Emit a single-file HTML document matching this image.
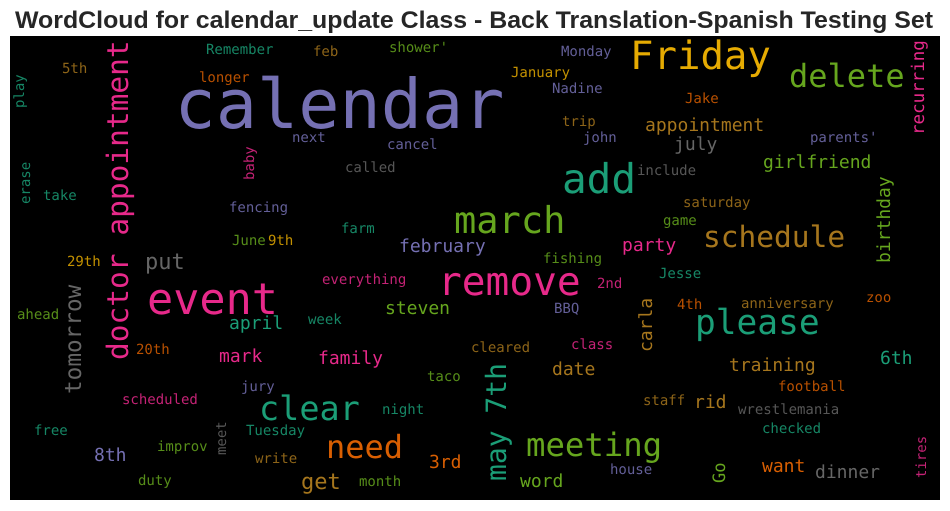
<!DOCTYPE html>
<html lang="en">
<head>
<meta charset="utf-8">
<title>WordCloud for calendar_update Class</title>
<style>
html,body{margin:0;padding:0;background:#fff;width:950px;height:511px;overflow:hidden}
svg{display:block}
#cloud{filter:blur(0.3px)}
#cloud text{font-family:"DejaVu Sans Mono","Liberation Mono",monospace;text-rendering:geometricPrecision}
.s{opacity:.85}
.t{fill:#1b9e77}.o{fill:#d95f02}.p{fill:#7570b3}.m{fill:#e7298a}.g{fill:#66a61e}.y{fill:#e6ab02}.b{fill:#a6761d}.k{fill:#666666}
</style>
</head>
<body>
<svg width="950" height="511" viewBox="0 0 950 511" xmlns="http://www.w3.org/2000/svg">
<text x="474" y="28" text-anchor="middle" textLength="918" lengthAdjust="spacingAndGlyphs" font-family="'Liberation Sans',sans-serif" font-weight="700" font-size="24.5" fill="#262626">WordCloud for calendar_update Class - Back Translation-Spanish Testing Set</text>
<rect x="10" y="36" width="930" height="464" fill="#000"/>
<g id="cloud">
<text class="p" x="174.500" y="128" font-size="68.5">calendar</text>
<text class="y" x="630" y="69" font-size="39">Friday</text>
<text class="g" x="789" y="87" font-size="32">delete</text>
<text class="t" x="562" y="193" font-size="41">add</text>
<text class="g" x="454" y="233" font-size="37">march</text>
<text class="b" x="703" y="247" font-size="29.5">schedule</text>
<text class="m" x="438" y="295" font-size="39.5">remove</text>
<text class="m" x="147" y="314" font-size="43.5">event</text>
<text class="t" x="695" y="334" font-size="34.5">please</text>
<text class="t" x="259" y="420" font-size="33.5">clear</text>
<text class="o" x="326" y="458" font-size="32">need</text>
<text class="g" x="526" y="456" font-size="32.3">meeting</text>
<text class="k" x="145" y="269" font-size="22">put</text>
<text class="b" x="301" y="489" font-size="22">get</text>
<g transform="translate(1 0)">
<text class="b" x="644" y="131" font-size="18">appointment</text>
<text class="k" x="673" y="150" font-size="18">july</text>
<text class="g" x="762" y="168" font-size="18">girlfriend</text>
<text class="m" x="621" y="251" font-size="18">party</text>
<text class="p" x="398" y="252" font-size="18">february</text>
<text class="t" x="228" y="329" font-size="18">april</text>
<text class="m" x="218" y="362" font-size="18">mark</text>
<text class="m" x="317" y="364" font-size="18">family</text>
<text class="p" x="93" y="461" font-size="18">8th</text>
<text class="g" x="384" y="314" font-size="18">steven</text>
<text class="b" x="551" y="375" font-size="18">date</text>
<text class="o" x="428" y="468" font-size="18">3rd</text>
<text class="g" x="519" y="487" font-size="18">word</text>
<text class="t" x="879" y="364" font-size="18">6th</text>
<text class="b" x="728" y="371" font-size="18">training</text>
<text class="b" x="693" y="408" font-size="18">rid</text>
<text class="o" x="761" y="472" font-size="18">want</text>
<text class="k" x="814" y="478" font-size="18">dinner</text>
<text class="o s" x="684" y="103" font-size="14">Jake</text>
<text class="p s" x="809" y="142" font-size="14">parents'</text>
<text class="k s" x="636" y="175" font-size="14">include</text>
<text class="b s" x="682" y="207" font-size="14">saturday</text>
<text class="g s" x="662" y="225" font-size="14">game</text>
<text class="t s" x="340" y="233" font-size="14">farm</text>
<text class="k s" x="344" y="172" font-size="14">called</text>
<text class="p s" x="386" y="149" font-size="14">cancel</text>
<text class="p s" x="582" y="142" font-size="14">john</text>
<text class="b s" x="561" y="126" font-size="14">trip</text>
<text class="p s" x="551" y="93" font-size="14">Nadine</text>
<text class="y s" x="510" y="77" font-size="14">January</text>
<text class="p s" x="560" y="56" font-size="14">Monday</text>
<text class="g s" x="388" y="52" font-size="14">shower'</text>
<text class="b s" x="312" y="56" font-size="14">feb</text>
<text class="t s" x="205" y="54" font-size="14">Remember</text>
<text class="b s" x="61" y="73" font-size="14">5th</text>
<text class="o s" x="198" y="82" font-size="14">longer</text>
<text class="p s" x="291" y="142" font-size="14">next</text>
<text class="t s" x="42" y="200" font-size="14">take</text>
<text class="p s" x="228" y="212" font-size="14">fencing</text>
<text class="g s" x="231" y="245" font-size="14">June</text>
<text class="y s" x="267" y="245" font-size="14">9th</text>
<text class="y s" x="66" y="266" font-size="14">29th</text>
<text class="t s" x="307" y="324" font-size="14">week</text>
<text class="g s" x="16" y="319" font-size="14">ahead</text>
<text class="o s" x="135" y="354" font-size="14">20th</text>
<text class="p s" x="240" y="391" font-size="14">jury</text>
<text class="m s" x="121" y="404" font-size="14">scheduled</text>
<text class="t s" x="33" y="435" font-size="14">free</text>
<text class="t s" x="245" y="435" font-size="14">Tuesday</text>
<text class="g s" x="156" y="451" font-size="14">improv</text>
<text class="b s" x="254" y="463" font-size="14">write</text>
<text class="g s" x="137" y="485" font-size="14">duty</text>
<text class="m s" x="321" y="284" font-size="14">everything</text>
<text class="g s" x="542" y="263" font-size="14">fishing</text>
<text class="m s" x="596" y="288" font-size="14">2nd</text>
<text class="p s" x="553" y="313" font-size="14">BBQ</text>
<text class="b s" x="470" y="352" font-size="14">cleared</text>
<text class="m s" x="570" y="349" font-size="14">class</text>
<text class="g s" x="426" y="381" font-size="14">taco</text>
<text class="t s" x="381" y="414" font-size="14">night</text>
<text class="g s" x="358" y="486" font-size="14">month</text>
<text class="p s" x="609" y="474" font-size="14">house</text>
<text class="t s" x="658" y="278" font-size="14">Jesse</text>
<text class="o s" x="865" y="302" font-size="14">zoo</text>
<text class="o s" x="676" y="309" font-size="14">4th</text>
<text class="b s" x="740" y="308" font-size="14">anniversary</text>
<text class="o s" x="777" y="391" font-size="14">football</text>
<text class="b s" x="642" y="405" font-size="14">staff</text>
<text class="k s" x="737" y="414" font-size="14">wrestlemania</text>
<text class="t s" x="761" y="433" font-size="14">checked</text>
</g>
<text class="m" transform="translate(128 360) rotate(-90)" font-size="29.5">doctor appointment</text>
<text class="k" transform="translate(81 394) rotate(-90)" font-size="22.7">tomorrow</text>
<text class="t" transform="translate(506 481) rotate(-90)" font-size="28">may 7th</text>
<text class="m" transform="translate(924 135) rotate(-90)" font-size="17.5">recurring</text>
<text class="g" transform="translate(890 263) rotate(-90)" font-size="18">birthday</text>
<text class="b" transform="translate(652 352) rotate(-90)" font-size="18">carla</text>
<text class="g" transform="translate(725 483) rotate(-90)" font-size="17">Go</text>
<text class="t s" transform="translate(24 108) rotate(-90)" font-size="14">play</text>
<text class="t s" transform="translate(30 204) rotate(-90)" font-size="14">erase</text>
<text class="m s" transform="translate(254 180) rotate(-90)" font-size="14">baby</text>
<text class="k s" transform="translate(226 455) rotate(-90)" font-size="14">meet</text>
<text class="m s" transform="translate(926 478) rotate(-90)" font-size="14">tires</text>
</g>
</svg>
</body>
</html>
